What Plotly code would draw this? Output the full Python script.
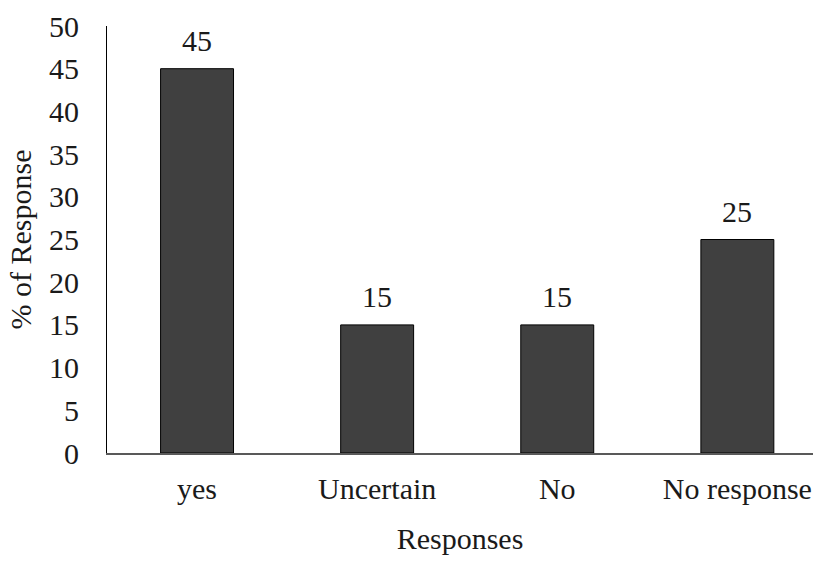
import plotly.graph_objects as go

categories = ["yes", "Uncertain", "No", "No response"]
values = [45, 15, 15, 25]
y_ticks = [0, 5, 10, 15, 20, 25, 30, 35, 40, 45, 50]

FONT = "Liberation Serif, Times New Roman, serif"
FS = 30
TXT = "#1a1a1a"

fig = go.Figure(go.Bar(
    x=categories, y=values,
    marker=dict(color="#404040", line=dict(color="#000000", width=1)),
    width=0.405,
    cliponaxis=False,
))

for c, v in zip(categories, values):
    fig.add_annotation(x=c, y=v, text=str(v), showarrow=False,
                       xanchor="center", yanchor="bottom", yshift=10,
                       font=dict(family=FONT, size=FS, color=TXT))

fig.update_layout(
    width=813, height=561,
    margin=dict(l=107, r=0, t=26, b=108),
    plot_bgcolor="white", paper_bgcolor="white",
    font=dict(family=FONT, size=FS, color=TXT),
    showlegend=False,
    xaxis=dict(
        range=[-0.5, 3.42], showline=True, linecolor="#595959", linewidth=2,
        ticks="", showgrid=False, zeroline=False,
        ticklabelstandoff=8,
        title=dict(text="Responses", standoff=24, font=dict(size=FS)),
        tickfont=dict(size=FS),
    ),
    yaxis=dict(
        range=[0, 50], tickvals=y_ticks, showline=True, linecolor="#000000", linewidth=1,
        ticks="", showgrid=False, zeroline=False,
        ticklabelstandoff=21,
        title=dict(text="% of Response", standoff=8, font=dict(size=FS)),
        tickfont=dict(size=FS),
    ),
)

fig.write_html("out.html")
